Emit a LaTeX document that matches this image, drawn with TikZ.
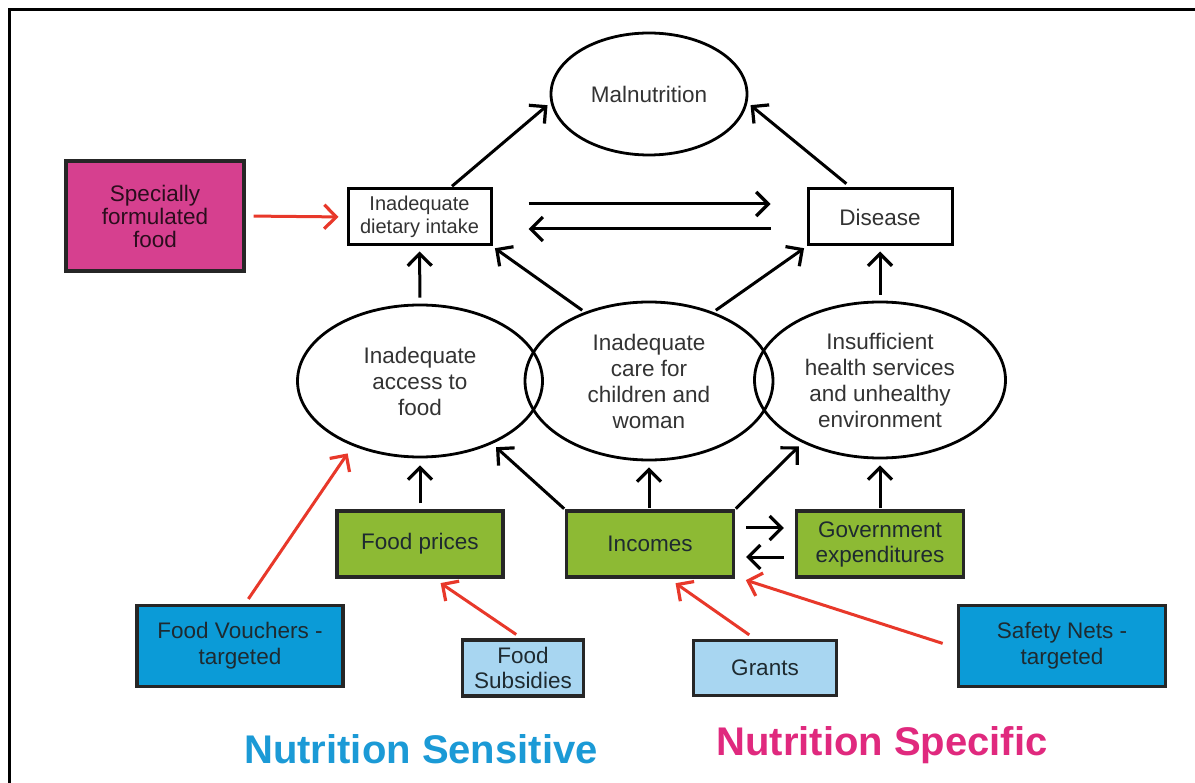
\documentclass[tikz,border=0pt]{standalone}
\usepackage{fontspec}
\setmainfont{Liberation Sans}
\usetikzlibrary{arrows.meta,shapes.geometric}
\definecolor{pinkbox}{HTML}{D6408F}
\definecolor{greenbox}{HTML}{8DBA34}
\definecolor{bluebox}{HTML}{0B9BD7}
\definecolor{lightbluebox}{HTML}{A8D6F1}
\definecolor{redarrow}{HTML}{E8382A}
\definecolor{titleblue}{HTML}{1B9AD6}
\definecolor{titlemagenta}{HTML}{E0297E}
\definecolor{txtgray}{HTML}{333333}
\definecolor{txtdark}{HTML}{1E2A30}
\tikzset{
  oval/.style={ellipse, draw=black, line width=2.8pt, inner sep=0pt, align=center,
    text=txtgray, font=\fontsize{22.5}{26}\selectfont},
  whitebox/.style={rectangle, draw=black, line width=3pt, inner sep=0pt, align=center,
    text=txtgray, fill=white},
  colbox/.style={rectangle, draw=black!85, line width=3.2pt, inner sep=0pt, align=center,
    text=txtdark, font=\fontsize{22.5}{25}\selectfont},
  blk/.style={draw=black, line width=3pt, -{Straight Barb[length=12pt,width=24pt,line width=3.2pt]}},
  red/.style={draw=redarrow, line width=3pt, -{Straight Barb[length=12pt,width=24pt,line width=3.2pt]}},
  title/.style={font=\bfseries\fontsize{40}{48}\selectfont}
}
\begin{document}
\begin{tikzpicture}[x=1pt,y=-1pt]
\clip (0,0) rectangle (1195,783);
\fill[white] (0,0) rectangle (1195,783);
\draw[line width=3pt] (9,10) rectangle (1220,810);

% top level
\node[oval, minimum width=196pt, minimum height=122pt] (mal) at (649,94) {Malnutrition};
\node[whitebox, minimum width=143pt, minimum height=56pt, font=\fontsize{20}{23}\selectfont] (diet) at (419.5,217) {Inadequate\\dietary intake};
\node[whitebox, minimum width=144pt, minimum height=56pt, font=\fontsize{22.5}{26}\selectfont] (dis) at (880,217) {Disease};
\node[colbox, fill=pinkbox, minimum width=178pt, minimum height=110pt, font=\fontsize{22.5}{23}\selectfont, text={black!80!pinkbox}] (spec) at (155,216) {Specially\\formulated\\food};

% middle ellipses
\node[oval, minimum width=245pt, minimum height=152pt] (acc) at (420,381) {Inadequate\\access to\\food};
\node[oval, minimum width=251pt, minimum height=156pt] (hlth) at (880,380) {Insufficient\\health services\\and unhealthy\\environment};
\node[oval, minimum width=248pt, minimum height=158pt] (care) at (649,381) {Inadequate\\care for\\children and\\woman};

% green boxes
\node[colbox, fill=greenbox, minimum width=166pt, minimum height=66pt] (fp) at (420,544) {Food prices};
\node[colbox, fill=greenbox, minimum width=167pt, minimum height=66pt] (inc) at (650,544) {Incomes};
\node[colbox, fill=greenbox, minimum width=167pt, minimum height=66pt] (gov) at (880,544) {Government\\expenditures};

% intervention boxes
\node[colbox, fill=bluebox, minimum width=206pt, minimum height=81pt, font=\fontsize{22.5}{26}\selectfont] (fv) at (240,646) {Food Vouchers -\\targeted};
\node[colbox, fill=lightbluebox, minimum width=121pt, minimum height=56pt, font=\fontsize{22.5}{25}\selectfont] (fs) at (523,668) {Food\\Subsidies};
\node[colbox, fill=lightbluebox, minimum width=143pt, minimum height=55pt] (gr) at (765,668) {Grants};
\node[colbox, fill=bluebox, minimum width=207pt, minimum height=81pt, font=\fontsize{22.5}{26}\selectfont] (sn) at (1062,646) {Safety Nets -\\targeted};

% titles
\node[title, text=titleblue] (ns) at (421,749) {Nutrition Sensitive};
\node[title, text=titlemagenta] (nsp) at (882,745) {Nutrition Specific};

% black arrows, top
\draw[blk, shorten <=2pt, shorten >=4pt] ([xshift=31pt]diet.north) -- (mal.185);
\draw[blk, shorten <=6pt, shorten >=4pt] ([xshift=-29pt]dis.north) -- (mal.355);
\draw[blk] ([xshift=36pt,yshift=13pt]diet.east) -- ([xshift=-36pt,yshift=13pt]dis.west);
\draw[blk] ([xshift=-36pt,yshift=-12pt]dis.west) -- ([xshift=36pt,yshift=-12pt]diet.east);
\draw[blk, shorten <=6pt, shorten >=5pt] (acc.north) -- (diet.south);
\draw[blk, shorten <=3pt, shorten >=3pt] (care.133) -- (diet.south east);
\draw[blk, shorten <=3pt, shorten >=3pt] (care.47) -- (dis.south west);
\draw[blk, shorten <=6pt, shorten >=5pt] (hlth.north) -- (dis.south);

% black arrows, bottom
\draw[blk, shorten <=6pt, shorten >=7pt] (fp.north) -- (acc.south);
\draw[blk, shorten <=1pt, shorten >=5pt] (inc.north west) -- (acc.319);
\draw[blk, shorten <=1pt, shorten >=6pt] ([xshift=-1pt]inc.north) -- ([xshift=0pt]care.south);
\draw[blk, shorten <=1pt, shorten >=5pt] (inc.north east) -- (hlth.219);
\draw[blk, shorten <=1pt, shorten >=6pt] (gov.north) -- (hlth.south);
\draw[blk] ([xshift=11pt,yshift=16pt]inc.east) -- ([xshift=-11pt,yshift=16pt]gov.west);
\draw[blk] ([xshift=-11pt,yshift=-13pt]gov.west) -- ([xshift=11pt,yshift=-13pt]inc.east);

% red arrows
\draw[red, shorten <=8pt, shorten >=8pt] (spec.east) -- (diet.west);
\draw[red, shorten <=6pt, shorten >=9pt] ([xshift=5pt]fv.north) -- (acc.224);
\draw[red, shorten <=7pt, shorten >=8pt] ([xshift=-1pt]fs.north) -- ([xshift=14pt]fp.south);
\draw[red, shorten <=7pt, shorten >=8pt] ([xshift=-10pt]gr.north) -- ([xshift=19pt]inc.south);
\draw[red, shorten <=15pt, shorten >=5pt] ([yshift=-2pt]sn.west) -- ([xshift=6pt]inc.south east);
\end{tikzpicture}
\end{document}
